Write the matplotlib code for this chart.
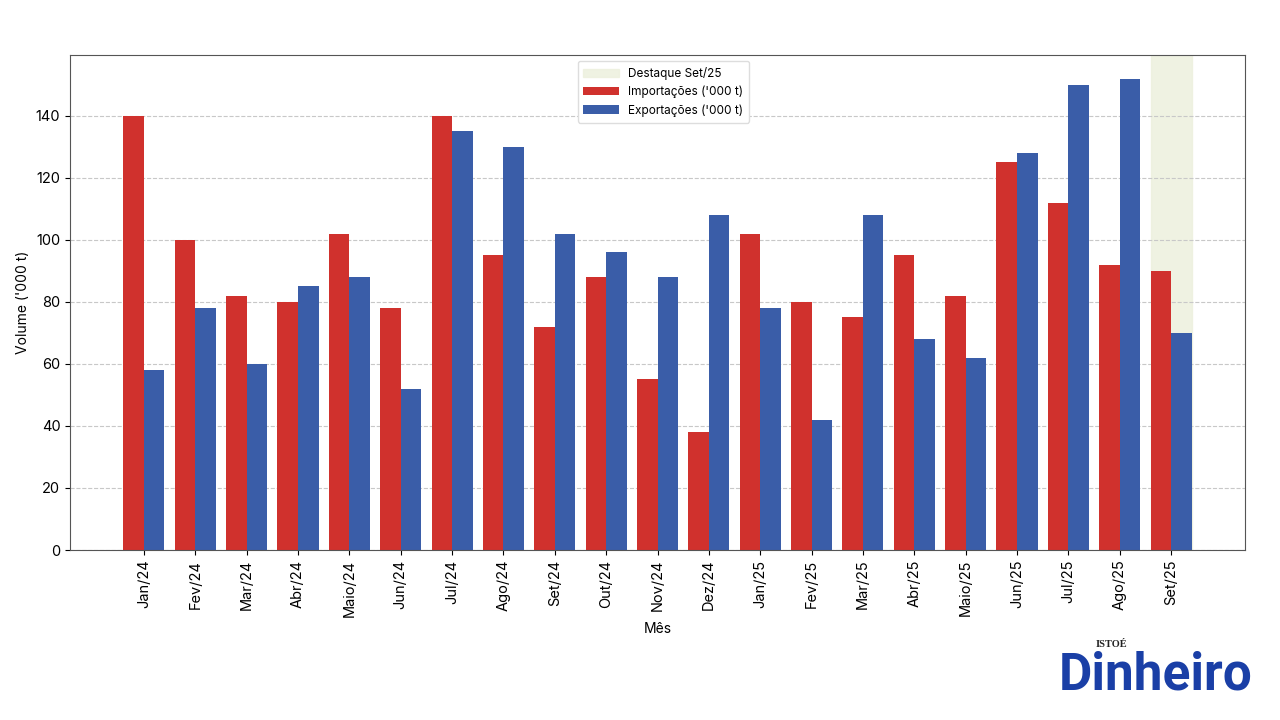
import matplotlib
matplotlib.use('Agg')
import matplotlib.pyplot as plt
import numpy as np

plt.rcParams['font.family'] = ['Inter', 'DejaVu Sans']

months = ['Jan/24', 'Fev/24', 'Mar/24', 'Abr/24', 'Maio/24', 'Jun/24', 'Jul/24', 'Ago/24',
          'Set/24', 'Out/24', 'Nov/24', 'Dez/24', 'Jan/25', 'Fev/25', 'Mar/25', 'Abr/25',
          'Maio/25', 'Jun/25', 'Jul/25', 'Ago/25', 'Set/25']
imports = [140, 100, 82, 80, 102, 78, 140, 95, 72, 88, 55, 38, 102, 80, 75, 95, 82, 125, 112, 92, 90]
exports = [58, 78, 60, 85, 88, 52, 135, 130, 102, 96, 88, 108, 78, 42, 108, 68, 62, 128, 150, 152, 70]
highlight = 'Set/25'

red = '#d0312d'
blue = '#3a5da8'

fig = plt.figure(figsize=(12.8, 7.2), dpi=100)
ax = fig.add_axes([70 / 1280, 1 - 550 / 720, 1175 / 1280, 495 / 720])

x = np.arange(len(months))
w = 0.4
hi = months.index(highlight)
ax.axvspan(hi - w, hi + w, color='#eef1df', alpha=0.9, label='Destaque Set/25', zorder=0)
ax.bar(x - w / 2, imports, w, color=red, label="Importações ('000 t)", zorder=2)
ax.bar(x + w / 2, exports, w, color=blue, label="Exportações ('000 t)", zorder=2)

ax.set_xticks(x)
ax.set_xticklabels(months, rotation=90, fontsize=10.5)
ax.tick_params(axis='y', labelsize=10.5)
ax.set_xlabel('Mês', fontsize=10)
ax.set_ylabel("Volume ('000 t)", fontsize=10)
ax.yaxis.grid(True, linestyle='--', color='#c8c8c8', linewidth=0.8, zorder=1)
ax.set_axisbelow(True)
for s in ax.spines.values():
    s.set_color('#555555')

ax.legend(loc='upper center', fontsize=8.5, framealpha=1, edgecolor='#dddddd',
          handlelength=3, borderpad=0.5, bbox_to_anchor=(0.505, 1.0))

# logo
fig.text(1252 / 1280, 1 - 700 / 720, 'Dinheiro', ha='right', va='bottom', fontsize=37,
         fontweight='bold', color='#1a3fa6', family=['Roboto', 'DejaVu Sans'])
fig.text(1096 / 1280, 1 - 649 / 720, 'ISTOÉ', ha='left', va='bottom', fontsize=7.5,
         fontweight='bold', color='#222222', family=['Liberation Serif', 'DejaVu Serif'])

fig.savefig('out.png', dpi=100)
